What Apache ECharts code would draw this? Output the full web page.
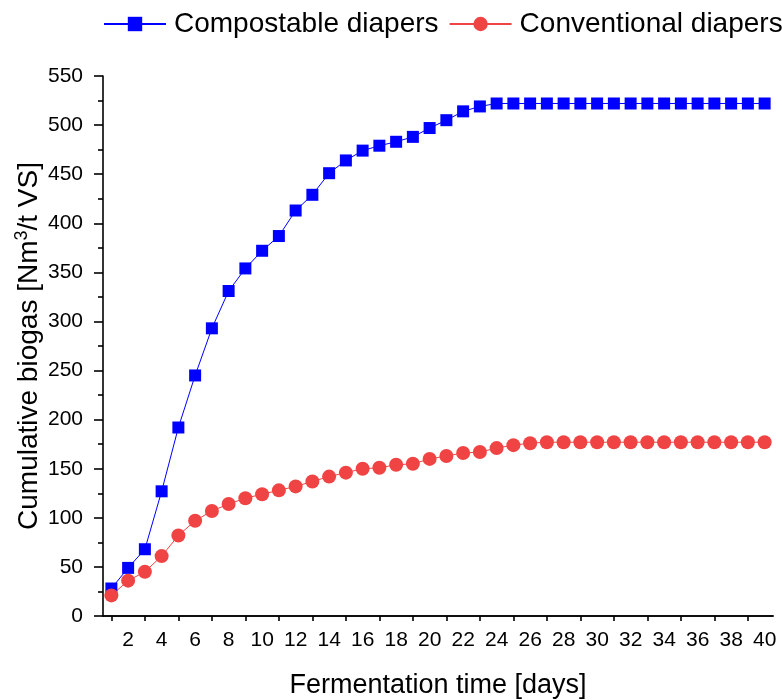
<!DOCTYPE html>
<html>
<head>
<meta charset="utf-8">
<script src="https://cdn.jsdelivr.net/npm/echarts@6/dist/echarts.min.js"></script>
<style>
html,body{margin:0;padding:0;background:#fff;}
#chart{width:782px;height:700px;}
</style>
</head>
<body>
<div id="chart"></div>
<script>
const days = [1,2,3,4,5,6,7,8,9,10,11,12,13,14,15,16,17,18,19,20,21,22,23,24,25,26,27,28,29,30,31,32,33,34,35,36,37,38,39,40];
const compostable = [28,49,68,127,192,245,293,331,354,372,387,413,429,451,464,474,479,483,488,497,505,514,519,522,522,522,522,522,522,522,522,522,522,522,522,522,522,522,522,522];
const conventional = [21,36,45,61,82,97,107,114,120,124,128,132,137,142,146,150,151,154,155,160,163,166,167,171,174,176,177,177,177,177,177,177,177,177,177,177,177,177,177,177];
const seriesNames = ['Compostable diapers', 'Conventional diapers'];
const xTitle = 'Fermentation time [days]';
const yTitle = '{a|Cumulative biogas [Nm}{s|3}{a|/t VS]}';

const FONT = "'Liberation Sans', Arial, sans-serif";
const chart = echarts.init(document.getElementById('chart'), null, {renderer: 'canvas'});
const axisColor = '#000';
chart.setOption({
  animation: false,
  backgroundColor: '#fff',
  textStyle: {fontFamily: FONT, color: '#000'},
  legend: {
    top: 10, left: 103, width: 700, padding: 0,
    orient: 'horizontal',
    itemWidth: 62, itemHeight: 18, itemGap: 10,
    textStyle: {fontSize: 28, fontFamily: FONT, color: '#000', padding: [0,0,0,3]},
    data: seriesNames
  },
  grid: {left: 103, right: 9, top: 76, bottom: 84, containLabel: false, outerBoundsMode: 'none'},
  xAxis: [{
    type: 'category',
    data: days,
    boundaryGap: true,
    position: 'bottom',
    name: xTitle,
    nameLocation: 'middle',
    nameGap: 56,
    nameMoveOverlap: false,
    nameTextStyle: {fontSize: 27, fontFamily: FONT, color: '#000'},
    axisLine: {lineStyle: {color: axisColor, width: 1.6}},
    axisTick: {alignWithLabel: true, length: 9, interval: function(i){return i % 2 === 1;}, lineStyle: {color: axisColor, width: 1.6}},
    axisLabel: {interval: function(i){return i % 2 === 1;}, fontSize: 21, fontFamily: FONT, color: '#000', margin: 14},
    splitLine: {show: false}
  },{
    type: 'category',
    data: days,
    boundaryGap: true,
    position: 'bottom',
    offset: 0,
    axisLine: {show: true, lineStyle: {color: axisColor, width: 1.6}},
    axisTick: {show: true, alignWithLabel: true, length: 5, interval: function(i){return i % 2 === 0;}, lineStyle: {color: axisColor, width: 1.6}},
    axisLabel: {show: false},
    splitLine: {show: false}
  }],
  yAxis: {
    type: 'value',
    min: 0, max: 550, interval: 50,
    name: yTitle,
    nameLocation: 'middle',
    nameGap: 58,
    nameMoveOverlap: false,
    nameRotate: 90,
    nameTextStyle: {
      fontSize: 28, fontFamily: FONT, color: '#000',
      rich: {
        a: {fontSize: 28, fontFamily: FONT, color: '#000', lineHeight: 32},
        s: {fontSize: 18, fontFamily: FONT, color: '#000', verticalAlign: 'top', lineHeight: 32, padding: [0,0,12,0]}
      }
    },
    axisLine: {show: true, lineStyle: {color: axisColor, width: 1.6}},
    axisTick: {show: true, length: 9, lineStyle: {color: axisColor, width: 1.6}},
    minorTick: {show: true, splitNumber: 2, length: 5, lineStyle: {color: axisColor, width: 1.6}},
    axisLabel: {fontSize: 21, fontFamily: FONT, color: '#000', margin: 20},
    splitLine: {show: false}
  },
  series: [{
    name: seriesNames[0],
    type: 'line',
    xAxisIndex: 0,
    data: compostable,
    symbol: 'rect',
    symbolSize: 12,
    showAllSymbol: true,
    lineStyle: {color: '#0000FF', width: 1},
    itemStyle: {color: '#0000FF'}
  },{
    name: seriesNames[1],
    type: 'line',
    xAxisIndex: 0,
    data: conventional,
    symbol: 'circle',
    symbolSize: 14,
    showAllSymbol: true,
    lineStyle: {color: '#F04444', width: 1},
    itemStyle: {color: '#F04444'}
  }]
});
</script>
</body>
</html>
